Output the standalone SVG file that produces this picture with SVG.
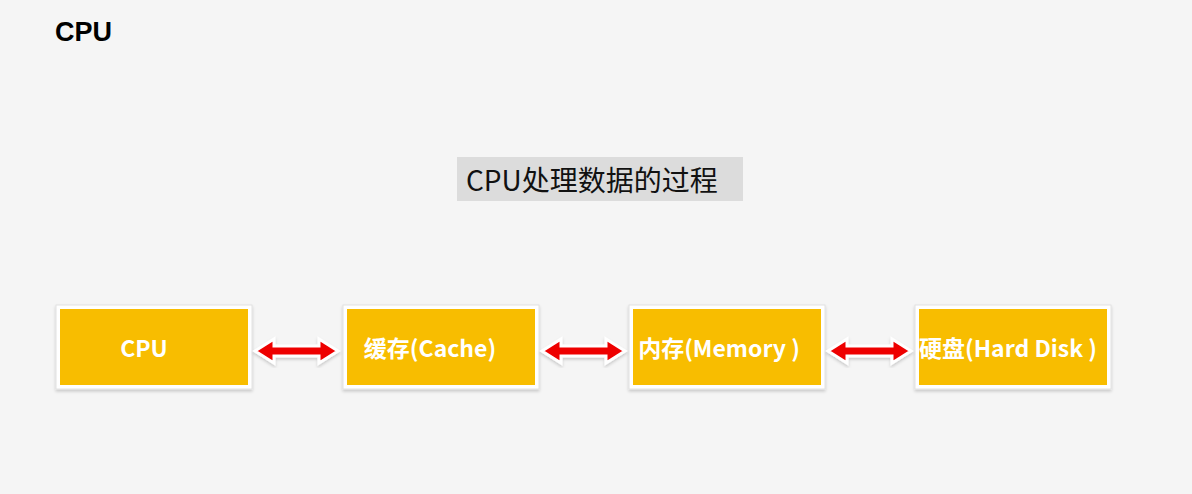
<svg xmlns="http://www.w3.org/2000/svg" width="1192" height="494" viewBox="0 0 1192 494">
<style>
.frame{fill:#ffffff;stroke:#e2e2e2;stroke-width:1}
.box{fill:#f8bd00}
.lbl{font-family:"Noto Sans CJK SC","Noto Sans",sans-serif;font-weight:bold;font-size:23px;fill:#ffffff;text-anchor:middle;dominant-baseline:central}
.arrow{fill:#ee0000;stroke:#ffffff;stroke-width:3;stroke-linejoin:miter}
</style>
<defs>
<filter id="sh" x="-10%" y="-10%" width="120%" height="130%">
<feDropShadow dx="0" dy="2" stdDeviation="1.5" flood-color="#000" flood-opacity="0.18"/>
</filter>
<polygon id="dbl" class="arrow" points="0,0 19,-12 19,-5 64,-5 64,-12 83,0 64,12 64,5 19,5 19,12"/>
</defs>
<rect width="1192" height="494" fill="#f5f5f5"/>
<text x="55" y="41" font-family="Liberation Sans, Arial, sans-serif" font-weight="bold" font-size="27" fill="#000">CPU</text>
<g id="title">
<rect x="457" y="157" width="286" height="44" fill="#dcdcdc"/>
<text x="466" y="191" font-family="'Noto Sans CJK SC', sans-serif" font-size="28" fill="#111">CPU处理数据的过程</text>
</g>
<g id="n-cpu">
<rect class="frame" x="56" y="305" width="196" height="84" filter="url(#sh)"/>
<rect class="box" x="60" y="309" width="188" height="76"/>
<text class="lbl" x="144" y="347">CPU</text>
</g>
<g id="n-cache">
<rect class="frame" x="343" y="305" width="196" height="84" filter="url(#sh)"/>
<rect class="box" x="347" y="309" width="188" height="76"/>
<text class="lbl" x="430" y="347">缓存(Cache)</text>
</g>
<g id="n-memory">
<rect class="frame" x="629" y="305" width="196" height="84" filter="url(#sh)"/>
<rect class="box" x="633" y="309" width="188" height="76"/>
<text class="lbl" x="719" y="347">内存(Memory )</text>
</g>
<g id="n-disk">
<rect class="frame" x="915" y="305" width="196" height="84" filter="url(#sh)"/>
<rect class="box" x="919" y="309" width="188" height="76"/>
<text class="lbl" x="1008" y="347">硬盘(Hard Disk )</text>
</g>
<g id="connectors" filter="url(#sh)">
<use href="#dbl" x="255" y="351"/>
<use href="#dbl" x="542" y="351"/>
<use href="#dbl" x="828" y="351"/>
</g>
</svg>
